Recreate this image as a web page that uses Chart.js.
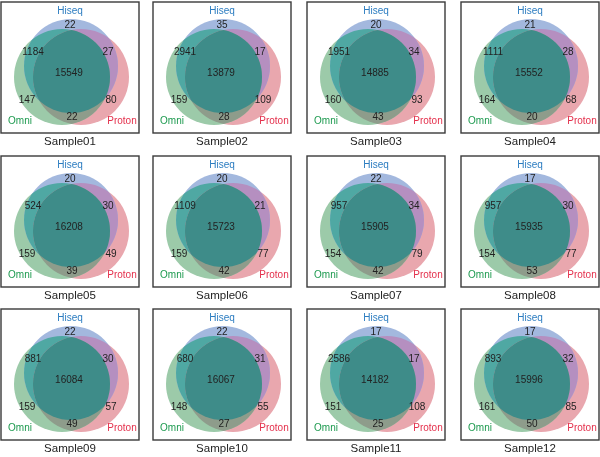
<!DOCTYPE html>
<html>
<head>
<meta charset="utf-8">
<script src="https://cdn.jsdelivr.net/npm/chart.js@4.4.1/dist/chart.umd.min.js"></script>
<style>
body { margin: 0; background: #fff; }
#wrap { position: relative; width: 600px; height: 457px; overflow: hidden; }
#wrap canvas { position: absolute; }
</style>
</head>
<body>
<div id="wrap"></div>
<script>
// Region counts per sample
const samples = ['Sample01', 'Sample02', 'Sample03', 'Sample04', 'Sample05', 'Sample06',
                 'Sample07', 'Sample08', 'Sample09', 'Sample10', 'Sample11', 'Sample12'];
const hiseqOnly       = [22, 35, 20, 21, 20, 20, 22, 17, 22, 22, 17, 17];
const hiseqOmni       = [1184, 2941, 1951, 1111, 524, 1109, 957, 957, 881, 680, 2586, 893];
const hiseqProton     = [27, 17, 34, 28, 30, 21, 34, 30, 30, 31, 17, 32];
const allThree        = [15549, 13879, 14885, 15552, 16208, 15723, 15905, 15935, 16084, 16067, 14182, 15996];
const omniOnly        = [147, 159, 160, 164, 159, 159, 154, 154, 159, 148, 151, 161];
const protonOnly      = [80, 109, 93, 68, 49, 77, 79, 77, 57, 55, 108, 85];
const omniProton      = [22, 28, 43, 20, 39, 42, 42, 53, 49, 27, 25, 50];

// panel layout (pixels)
const colX = [1, 153, 307, 461];
const rowY = [2, 156, 309];
const boxW = 138, boxH = 131;

// circle layout inside a panel box (dataset index: 0 Hiseq, 1 Omni, 2 Proton)
const circles = [
    { name: 'Hiseq',  x: 70, y: 64, r: 47, fill: '#a3b8de' },
    { name: 'Omni',   x: 61, y: 75, r: 48, fill: '#9ccaa9' },
    { name: 'Proton', x: 80, y: 75, r: 48, fill: '#e9a7ae' }
];
// overlap colours: which circles, fill
const overlaps = [
    { sets: [0, 1], fill: '#4fa8a3' },
    { sets: [0, 2], fill: '#b58fc0' },
    { sets: [1, 2], fill: '#8e9c8b' },
    { sets: [0, 1, 2], fill: '#3e8c89' }
];

// where each count sits inside the box
const labelPos = {
    hiseqOnly: [69, 23], hiseqOmni: [32, 50], hiseqProton: [107, 50], allThree: [68, 71],
    omniOnly: [26, 98], protonOnly: [110, 98], omniProton: [71, 115]
};
const setLabels = [
    { text: 'Hiseq',  x: 69,  y: 9,   color: '#2b7cc0' },
    { text: 'Omni',   x: 19,  y: 119, color: '#1d9a4f' },
    { text: 'Proton', x: 121, y: 119, color: '#e4304c' }
];

const vennText = {
    id: 'vennText',
    beforeDatasetsDraw(chart) {
        const ctx = chart.ctx;
        const x = chart.scales.x, y = chart.scales.y;
        ctx.save();
        ctx.strokeStyle = '#3a3a3a';
        ctx.lineWidth = 1.4;
        ctx.strokeRect(x.getPixelForValue(0), y.getPixelForValue(0), boxW, boxH);
        ctx.restore();
    },
    afterDatasetsDraw(chart, args, opts) {
        const ctx = chart.ctx;
        const x = chart.scales.x, y = chart.scales.y;
        const i = opts.index;

        // shade the overlaps, clipped to the drawn circles
        const pts = chart.data.datasets.map((d, k) => chart.getDatasetMeta(k).data[0]);
        overlaps.forEach(ov => {
            ctx.save();
            ov.sets.forEach(k => {
                const p = pts[k];
                ctx.beginPath();
                ctx.arc(p.x, p.y, p.options.radius, 0, Math.PI * 2);
                ctx.clip();
            });
            ctx.fillStyle = ov.fill;
            ctx.fillRect(0, 0, chart.width, chart.height);
            ctx.restore();
        });

        const counts = { hiseqOnly, hiseqOmni, hiseqProton, allThree, omniOnly, protonOnly, omniProton };
        ctx.save();
        ctx.textAlign = 'center';
        ctx.textBaseline = 'middle';
        ctx.font = '10px "Liberation Sans", Arial, sans-serif';
        ctx.fillStyle = '#222';
        Object.keys(counts).forEach(k => {
            const p = labelPos[k];
            ctx.fillText(String(counts[k][i]), x.getPixelForValue(p[0]), y.getPixelForValue(p[1]));
        });
        setLabels.forEach(l => {
            ctx.fillStyle = l.color;
            ctx.fillText(l.text, x.getPixelForValue(l.x), y.getPixelForValue(l.y));
        });
        ctx.fillStyle = '#222';
        ctx.font = '11.5px "Liberation Sans", Arial, sans-serif';
        ctx.fillText(samples[i], x.getPixelForValue(69), y.getPixelForValue(140));
        ctx.restore();
    }
};

const wrap = document.getElementById('wrap');
samples.forEach((name, i) => {
    const c = i % 4, r = Math.floor(i / 4);
    const canvas = document.createElement('canvas');
    canvas.width = 141;
    canvas.height = 152;
    canvas.style.left = (colX[c] - 1) + 'px';
    canvas.style.top = (rowY[r] - 1) + 'px';
    wrap.appendChild(canvas);

    new Chart(canvas.getContext('2d'), {
        type: 'scatter',
        data: {
            datasets: circles.map(cl => ({
                label: cl.name,
                data: [{ x: cl.x, y: cl.y }],
                pointRadius: cl.r,
                pointHoverRadius: cl.r,
                pointBorderWidth: 0,
                pointHoverBorderWidth: 0,
                backgroundColor: cl.fill,
                hoverBackgroundColor: cl.fill,
                borderColor: 'rgba(0,0,0,0)',
                clip: false
            }))
        },
        options: {
            responsive: false,
            animation: false,
            events: [],
            layout: { padding: 0, autoPadding: false },
            scales: {
                x: { type: 'linear', min: -1, max: 140, display: false },
                y: { type: 'linear', min: -1, max: 151, reverse: true, display: false }
            },
            plugins: {
                legend: { display: false },
                tooltip: { enabled: false },
                vennText: { index: i }
            }
        },
        plugins: [vennText]
    });
});
</script>
</body>
</html>
